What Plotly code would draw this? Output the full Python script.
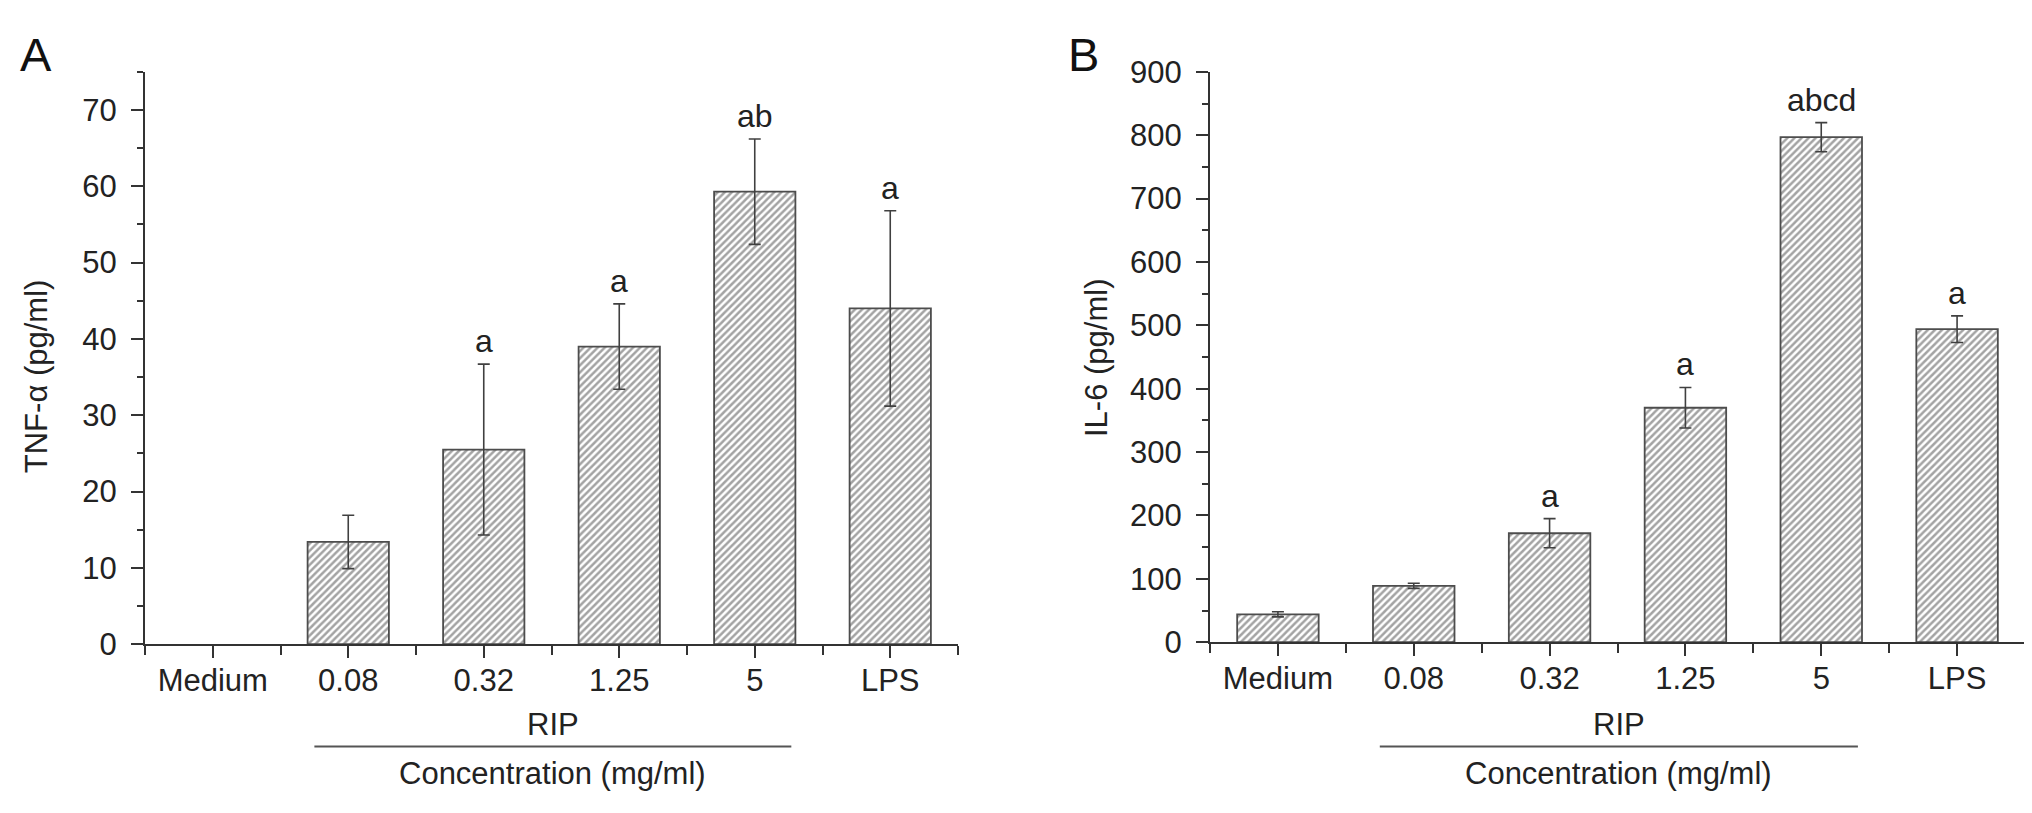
import plotly.graph_objects as go

# --- data -------------------------------------------------------------
categories = ["Medium", "0.08", "0.32", "1.25", "5", "LPS"]

tnf_mean = [None, 13.4, 25.5, 39.0, 59.3, 44.0]
tnf_err = [None, 3.5, 11.2, 5.6, 6.9, 12.8]
tnf_sig = ["", "", "a", "a", "ab", "a"]

il6_mean = [44, 89, 172, 370, 797, 494]
il6_err = [4, 4, 23, 32, 23, 21]
il6_sig = ["", "", "a", "a", "abcd", "a"]

rip_span = (0.75, 4.27)  # RIP bracket under 0.08 .. 5

FONT = "Liberation Sans, Arial, sans-serif"
INK = "#222222"
W, H = 2032, 813

fig = go.Figure()

xpos = list(range(len(categories)))


def add_panel(mean, err, xa, ya):
    fig.add_trace(go.Bar(
        x=xpos, y=mean, width=0.6,
        marker=dict(
            color="white",
            line=dict(color="#4d4d4d", width=1.8),
            pattern=dict(shape="/", size=5, solidity=0.5,
                         fgcolor="#484848", bgcolor="white"),
        ),
        error_y=dict(type="data", array=err, visible=True,
                     color="#404040", thickness=1.6, width=6),
        xaxis=xa, yaxis=ya, showlegend=False, hoverinfo="skip",
    ))


add_panel(tnf_mean, tnf_err, "x", "y")
add_panel(il6_mean, il6_err, "x2", "y2")


def txt(size, color=INK):
    return dict(family=FONT, size=size, color=color)


annotations = []
for xa, ya, mean, err, sig in [("x", "y", tnf_mean, tnf_err, tnf_sig),
                               ("x2", "y2", il6_mean, il6_err, il6_sig)]:
    for i, s in enumerate(sig):
        if not s:
            continue
        annotations.append(dict(
            x=i, y=mean[i] + err[i], xref=xa, yref=ya, text=s,
            showarrow=False, xanchor="center", yanchor="middle", yshift=23,
            font=txt(32),
        ))

# group labels under the x axes
for xa in ["x", "x2"]:
    mid = (rip_span[0] + rip_span[1]) / 2
    annotations.append(dict(x=mid, y=1 - 731 / H, xref=xa, yref="paper", text="RIP",
                            showarrow=False, xanchor="center", yanchor="middle",
                            font=txt(31)))
    annotations.append(dict(x=mid, y=1 - 782 / H, xref=xa, yref="paper",
                            text="Concentration (mg/ml)", showarrow=False,
                            xanchor="center", yanchor="middle", font=txt(31)))
    fig.add_shape(type="line", xref=xa, yref="paper",
                  x0=rip_span[0], x1=rip_span[1], y0=1 - 754 / H, y1=1 - 754 / H,
                  line=dict(color="#555555", width=2))

# axis titles and panel letters
annotations += [
    dict(x=28 / W, y=1 - 367 / H, text="TNF-α (pg/ml)", textangle=-90, font=txt(31)),
    dict(x=1088 / W, y=1 - 348 / H, text="IL-6 (pg/ml)", textangle=-90, font=txt(31)),
    dict(x=28 / W, y=1 - 31 / H, text="A", font=txt(47, "#111111")),
    dict(x=1075 / W, y=1 - 31 / H, text="B", font=txt(47, "#111111")),
]
for a in annotations[-4:]:
    a.update(xref="paper", yref="paper", showarrow=False,
             xanchor="center", yanchor="middle")

xaxis_common = dict(
    range=[-0.5, 5.5], tickmode="array", tickvals=xpos, ticktext=categories,
    ticks="outside", ticklen=12, tickwidth=2, tickcolor="#333333",
    showline=True, linecolor="#333333", linewidth=2, showgrid=False, zeroline=False,
    tickfont=txt(31), ticklabelstandoff=-4,
    minor=dict(tickmode="array", tickvals=[i - 0.5 for i in range(len(categories) + 1)],
               ticks="outside", ticklen=9, tickwidth=2, tickcolor="#333333"),
)

yaxis_common = dict(
    ticks="outside", ticklen=12, tickwidth=2, tickcolor="#333333",
    showline=True, linecolor="#333333", linewidth=2, showgrid=False, zeroline=False,
    tickfont=txt(31), ticklabelstandoff=8,
)

fig.update_layout(
    width=W, height=H,
    margin=dict(l=0, r=0, t=0, b=0),
    paper_bgcolor="white", plot_bgcolor="white",
    xaxis=dict(domain=[137 / W, 950 / W], anchor="y", **xaxis_common),
    xaxis2=dict(domain=[1202 / W, 2017 / W], anchor="y2", **xaxis_common),
    yaxis=dict(domain=[1 - 647 / H, 1 - 49 / H], anchor="x", range=[0, 75],
               tickvals=[0, 10, 20, 30, 40, 50, 60, 70],
               minor=dict(dtick=5, tick0=0, ticks="outside", ticklen=6,
                          tickwidth=2, tickcolor="#333333"),
               **yaxis_common),
    yaxis2=dict(domain=[1 - 645 / H, 1 - 49 / H], anchor="x2", range=[0, 900],
                dtick=100,
                minor=dict(dtick=50, tick0=0, ticks="outside", ticklen=6,
                           tickwidth=2, tickcolor="#333333"),
                **yaxis_common),
    annotations=annotations,
)

fig.write_html("out.html")
